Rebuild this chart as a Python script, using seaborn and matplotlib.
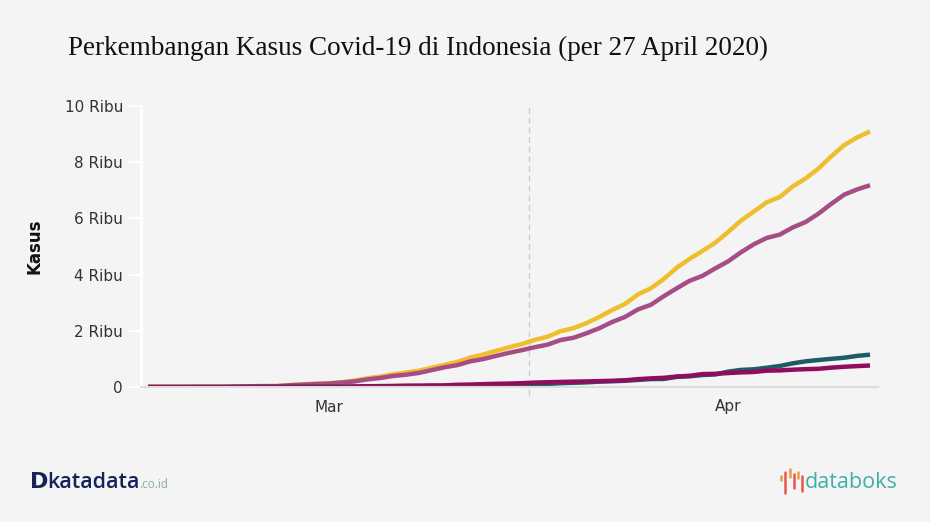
import numpy as np
import pandas as pd
import matplotlib
matplotlib.use("Agg")
import matplotlib.pyplot as plt
from matplotlib.lines import Line2D
import seaborn as sns

# ---- data (cumulative cases, 2 Mar - 27 Apr 2020) ----
dates = pd.date_range("2020-03-02", "2020-04-27", freq="D")
confirmed = [2, 2, 2, 2, 4, 4, 6, 19, 27, 34, 34, 69, 96, 117, 134, 172, 227, 309, 369, 450,
             514, 579, 686, 790, 893, 1046, 1155, 1285, 1414, 1528, 1677, 1790, 1986, 2092, 2273,
             2491, 2738, 2956, 3293, 3512, 3842, 4241, 4557, 4839, 5136, 5516, 5923, 6248, 6575,
             6760, 7135, 7418, 7775, 8211, 8607, 8882, 9096]
deaths = [0, 0, 0, 0, 0, 0, 0, 0, 0, 1, 1, 4, 5, 5, 5, 5, 19, 25, 32, 38,
          48, 49, 55, 58, 78, 87, 102, 114, 122, 136, 157, 170, 181, 191, 198,
          209, 221, 240, 280, 306, 327, 373, 399, 459, 469, 496, 520, 535, 582,
          590, 616, 635, 647, 689, 720, 743, 765]
recovered = [0, 0, 0, 0, 0, 0, 0, 0, 0, 2, 3, 5, 8, 8, 8, 9, 11, 15, 17, 20,
             29, 30, 30, 31, 35, 46, 59, 64, 75, 81, 103, 112, 134, 150, 164,
             192, 204, 222, 252, 282, 286, 359, 380, 426, 446, 548, 607, 631, 686,
             747, 842, 913, 960, 1002, 1042, 1107, 1151]
treated = [c - d - r for c, d, r in zip(confirmed, deaths, recovered)]

series_names = ["Positif", "Dirawat", "Sembuh", "Meninggal"]
series_colors = ["#F0BE2C", "#A64D86", "#1D5C66", "#900C5C"]
y_ticks = [0, 2000, 4000, 6000, 8000, 10000]
y_labels = ["0", "2 Ribu", "4 Ribu", "6 Ribu", "8 Ribu", "10 Ribu"]
x_tick_dates = ["2020-03-16", "2020-04-16"]
x_tick_labels = ["Mar", "Apr"]
divider_date = "2020-03-31 14:00"

df = pd.DataFrame({"Tanggal": list(dates) * 4,
                   "Kasus": confirmed + treated + recovered + deaths,
                   "Seri": sum([[n] * len(dates) for n in series_names], [])})

bg = "#F4F4F4"
sns.set_theme(style="white")
plt.rcParams["font.family"] = ["DejaVu Sans"]

fig = plt.figure(figsize=(9.30, 5.22), dpi=100, facecolor=bg)
ax = fig.add_axes([141 / 930, 1 - 387 / 522, (878 - 141) / 930, (387 - 106) / 522])
ax.set_facecolor(bg)

ax.axvline(pd.Timestamp(divider_date), color="#CCCCCC", lw=1, ls=(0, (4, 3)), zorder=0,
           ymin=-0.03, ymax=1.0, clip_on=False)

sns.lineplot(data=df, x="Tanggal", y="Kasus", hue="Seri", palette=series_colors,
             hue_order=series_names, linewidth=3.2, legend=False, ax=ax,
             solid_capstyle="butt")

day = pd.Timedelta(days=1)
ax.set_xlim(dates[0] - 0.54 * day, dates[-1] + 0.62 * day)
ax.set_ylim(0, 10000)
ax.set_yticks(y_ticks)
ax.set_yticklabels(y_labels, fontsize=11, color="#333333")
ax.set_xticks([pd.Timestamp(d) for d in x_tick_dates])
ax.set_xticklabels(x_tick_labels, fontsize=11, color="#333333")
ax.set_xlabel("")
ax.set_ylabel("Kasus", fontsize=12, fontweight="bold", color="#111111")
ax.yaxis.set_label_coords((43 - 141) / 737, 0.5)

for s in ["top", "right"]:
    ax.spines[s].set_visible(False)
ax.spines["left"].set_color("white")
ax.spines["left"].set_linewidth(2)
ax.spines["bottom"].set_color("#DDDDDD")
ax.spines["bottom"].set_linewidth(1.5)
ax.tick_params(axis="y", length=9, width=1.5, color="white", pad=4, left=True)
ax.tick_params(axis="x", length=0, pad=9)
ax.grid(False)

fig.text(68 / 930, 1 - 55 / 522, "Perkembangan Kasus Covid-19 di Indonesia (per 27 April 2020)",
         family="Liberation Serif", fontsize=19.5, color="#111111", ha="left", va="baseline")

# footer logos
fig.text(30 / 930, 1 - 488 / 522, "D", fontsize=16, fontweight="heavy", color="#14235A",
         ha="left", va="baseline", family="DejaVu Sans")
fig.text(47 / 930, 1 - 488 / 522, "katadata", fontsize=15.5, fontweight="semibold", color="#14235A",
         ha="left", va="baseline", family="Open Sans")
fig.text(139 / 930, 1 - 488 / 522, ".co.id", fontsize=8.5, color="#8AA9AE",
         ha="left", va="baseline", family="Open Sans")
fig.text(898 / 930, 1 - 488 / 522, "databoks", fontsize=15.5, color="#3FAFAA",
         ha="right", va="baseline", family="Open Sans")
for xpx, y0, y1, c in [(781, 476, 480, "#EE9A3A"), (785, 472, 493, "#E25A4A"),
                        (790, 469, 477, "#EE9A3A"), (794, 474, 488, "#E25A4A"),
                        (798, 472, 478, "#EE9A3A"), (802, 476, 491, "#E25A4A")]:
    fig.add_artist(Line2D([xpx / 930, xpx / 930], [1 - y0 / 522, 1 - y1 / 522],
                          color=c, lw=1.8, transform=fig.transFigure))

fig.savefig("out.png", dpi=100, facecolor=bg)
